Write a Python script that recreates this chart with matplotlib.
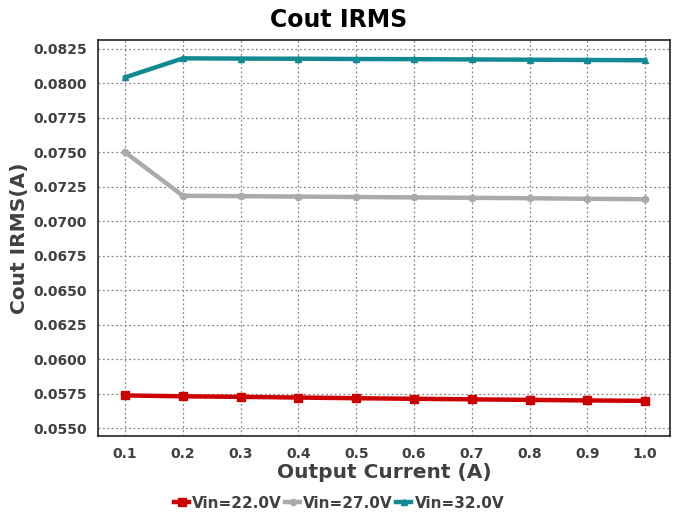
import matplotlib
matplotlib.use("Agg")
import matplotlib.pyplot as plt

x = [0.1, 0.2, 0.3, 0.4, 0.5, 0.6, 0.7, 0.8, 0.9, 1.0]
vin22 = [0.05736, 0.05730, 0.05726, 0.05721, 0.05716, 0.05712, 0.05708, 0.05704, 0.05700, 0.05697]
vin27 = [0.07500, 0.07185, 0.07182, 0.07179, 0.07176, 0.07173, 0.07170, 0.07167, 0.07163, 0.07160]
vin32 = [0.08044, 0.08182, 0.08180, 0.08179, 0.08177, 0.08176, 0.08174, 0.08172, 0.08170, 0.08168]
labels = ["Vin=22.0V", "Vin=27.0V", "Vin=32.0V"]
yticks = [0.0550, 0.0575, 0.0600, 0.0625, 0.0650, 0.0675, 0.0700, 0.0725, 0.0750, 0.0775, 0.0800, 0.0825]

txt = "#404040"
fig = plt.figure(figsize=(6.78, 5.16), dpi=100)
ax = fig.add_axes([98/678, 80/516, 572/678, 396/516])

ax.plot(x, vin22, color="#CC0000", lw=3.2, marker="s", ms=5.5, label=labels[0])
ax.plot(x, vin27, color="#AAAAAA", lw=3.2, marker="o", ms=4.5, label=labels[1])
ax.plot(x, vin32, color="#138A93", lw=3.2, marker="^", ms=4.5, label=labels[2])

ax.set_xlim(0.053, 1.043)
ax.set_ylim(0.05442, 0.08315)
ax.set_xticks(x)
ax.set_xticklabels([f"{v:.1f}" for v in x])
ax.set_yticks(yticks)
ax.set_yticklabels([f"{v:.4f}" for v in yticks])
ax.grid(True, linestyle=(0, (1.5, 2)), color="#888888", lw=0.9)
ax.tick_params(colors=txt, labelsize=10, length=0, pad=8)
for t in ax.get_xticklabels() + ax.get_yticklabels():
    t.set_fontweight("bold")
for s in ax.spines.values():
    s.set_color("#222222")
    s.set_linewidth(1.2)

ax.set_xlabel("Output Current (A)", fontsize=14.5, fontweight="bold", color=txt, labelpad=1)
ax.set_ylabel("Cout IRMS(A)", fontsize=14.5, fontweight="bold", color=txt, labelpad=3)
fig.text(0.5, 1 - 20/516, "Cout IRMS", ha="center", va="center", fontsize=17, fontweight="bold", color="black")

leg = fig.legend(loc="center", bbox_to_anchor=(0.5, 1 - 503/516), ncol=3, frameon=False,
                 handlelength=1.0, handletextpad=0.2, columnspacing=0.2,
                 prop={"weight": "bold", "size": 11})
for t in leg.get_texts():
    t.set_color(txt)

fig.savefig("out.png", dpi=100)
